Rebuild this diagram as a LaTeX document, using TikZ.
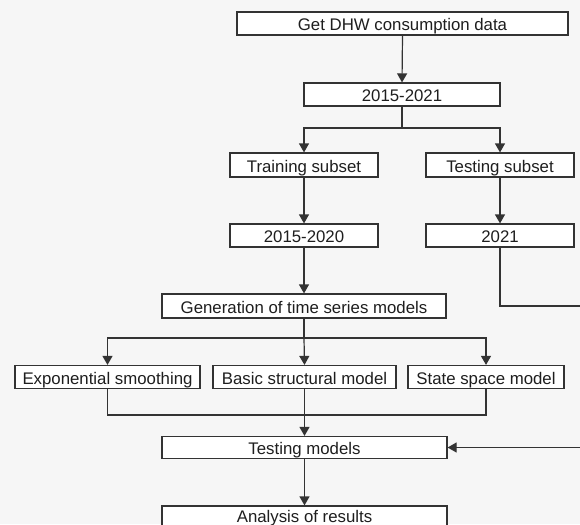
\documentclass[tikz,border=0pt]{standalone}
\usepackage{fontspec}
\setmainfont{Liberation Sans}
\usetikzlibrary{arrows.meta}
\definecolor{bgc}{HTML}{F6F6F6}
\definecolor{linec}{HTML}{333333}
\definecolor{textc}{HTML}{1E1E1E}
\begin{document}
\begin{tikzpicture}[x=1pt,y=-1pt,
  box/.style={draw=linec, fill=white, line width=1.2pt, inner sep=0pt,
    minimum height=23pt, text=textc, font=\fontsize{16.8}{20}\selectfont,
    text height=14pt, text depth=0pt},
  conn/.style={draw=linec, line width=1.2pt},
  arr/.style={conn, -{Triangle[length=9pt,width=10pt]}}]
\fill[bgc] (0,0) rectangle (580,524);
\useasboundingbox (0,0) rectangle (580,524);
\clip (0,0) rectangle (580,524);
% nodes
\node[box, minimum width=331pt] (get) at (402.5,23.5) {Get DHW consumption data};
\node[box, minimum width=196pt] (all) at (402,94.5) {2015-2021};
\node[box, minimum width=148pt, minimum height=24pt] (train) at (304,165) {Training subset};
\node[box, minimum width=148pt, minimum height=24pt] (test) at (500,165) {Testing subset};
\node[box, minimum width=148pt] (tr) at (304,235.5) {2015-2020};
\node[box, minimum width=148pt] (te) at (500,235.5) {2021};
\node[box, minimum width=284pt, minimum height=24pt] (gen) at (304,306) {Generation of time series models};
\node[box, minimum width=185pt] (exp) at (107.5,377) {Exponential smoothing};
\node[box, minimum width=183pt] (bsm) at (304.5,377) {Basic structural model};
\node[box, minimum width=156pt] (ssm) at (486,377) {State space model};
\node[box, minimum width=285pt, minimum height=22pt] (tm) at (304.5,447.5) {Testing models};
\node[box, minimum width=285pt, text height=12pt, text depth=3pt] (ar) at (304.5,517.5) {Analysis of results};
% junction coordinates
\coordinate (s1) at (402,128);
\coordinate (s2) at (304,338);
\coordinate (m1) at (304,415);
\coordinate (r1) at (500,306);
\coordinate (r2) at (592,306);
\coordinate (r3) at (592,447.5);
% connectors
\draw[arr] (get.south) -- (all.north);
\draw[conn] (all.south) -- (s1);
\draw[arr] (s1) -| (train.north);
\draw[arr] (s1) -| (test.north);
\draw[arr] (train.south) -- (tr.north);
\draw[arr] (test.south) -- (te.north);
\draw[arr] (tr.south) -- (gen.north);
\draw[conn] (gen.south) -- (s2);
\draw[arr] (s2) -| (exp.north);
\draw[arr] (s2) -- (bsm.north);
\draw[arr] (s2) -| (ssm.north);
\draw[conn] (exp.south) |- (m1);
\draw[conn] (ssm.south) |- (m1);
\draw[arr] (bsm.south) -- (tm.north);
\draw[conn] (te.south) -- (r1) -- (r2) -- (r3);
\draw[arr] (r3) -- (tm.east);
\draw[arr] (tm.south) -- (ar.north);
\end{tikzpicture}
\end{document}
